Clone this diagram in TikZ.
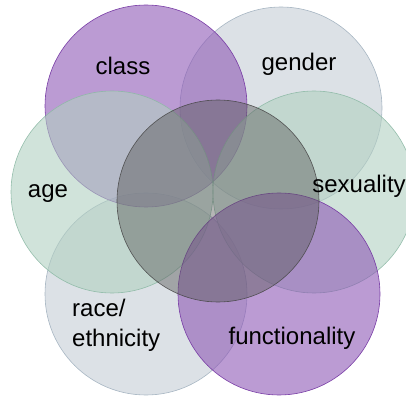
\documentclass[tikz,border=0pt]{standalone}
\usepackage{fontspec}
\setmainfont{Liberation Sans}
\usetikzlibrary{positioning}
\definecolor{lilac}{RGB}{142,88,182}
\definecolor{lilacline}{RGB}{112,48,160}
\definecolor{mist}{RGB}{197,205,213}
\definecolor{mistline}{RGB}{160,176,190}
\definecolor{sage}{RGB}{177,208,193}
\definecolor{sageline}{RGB}{140,185,165}
\definecolor{slate}{RGB}{90,90,90}
\tikzset{
  ring/.style={circle, minimum size=202pt, inner sep=0pt, line width=0.6pt,
               fill opacity=0.6, draw opacity=0.9},
  lilacring/.style={ring, fill=lilac, draw=lilacline},
  mistring/.style={ring, fill=mist, draw=mistline},
  sagering/.style={ring, fill=sage, draw=sageline},
  corering/.style={ring, fill=slate, draw=slate!80!black, fill opacity=0.45},
  tag/.style={font=\fontsize{24}{30}\selectfont, inner sep=0pt},
}

\begin{document}
\begin{tikzpicture}[x=1pt, y=1pt]
        \useasboundingbox (0,0) rectangle (406,396);
        \clip (0,0) rectangle (406,396);

        % outer ring of six
        \node[mistring] (gender) at (281,288) {};
        \node[mistring] (race) at (146,102) {};
        \node[lilacring] (class) at (146,290) {};
        \node[sagering] (age) at (112,204) {};
        \node[sagering] (sexuality) at (314,204) {};
        \node[lilacring] (func) at (279,102) {};

        % middle
        \node[corering] (core) at (218,195) {};

        % labels
        \node[tag] (classtxt) at (123,330) {class};
        \node[tag] (gendertxt) at (299,332) {gender};
        \node[tag] (agetxt) at (48,202) {age};
        \node[tag] (sexualitytxt) at (359,210) {sexuality};
        \node[tag, align=left, anchor=west] (racetxt) at (72,71) {race/\\ethnicity};
        \node[tag] (functxt) at (292,58) {functionality};
      \end{tikzpicture}
\end{document}
